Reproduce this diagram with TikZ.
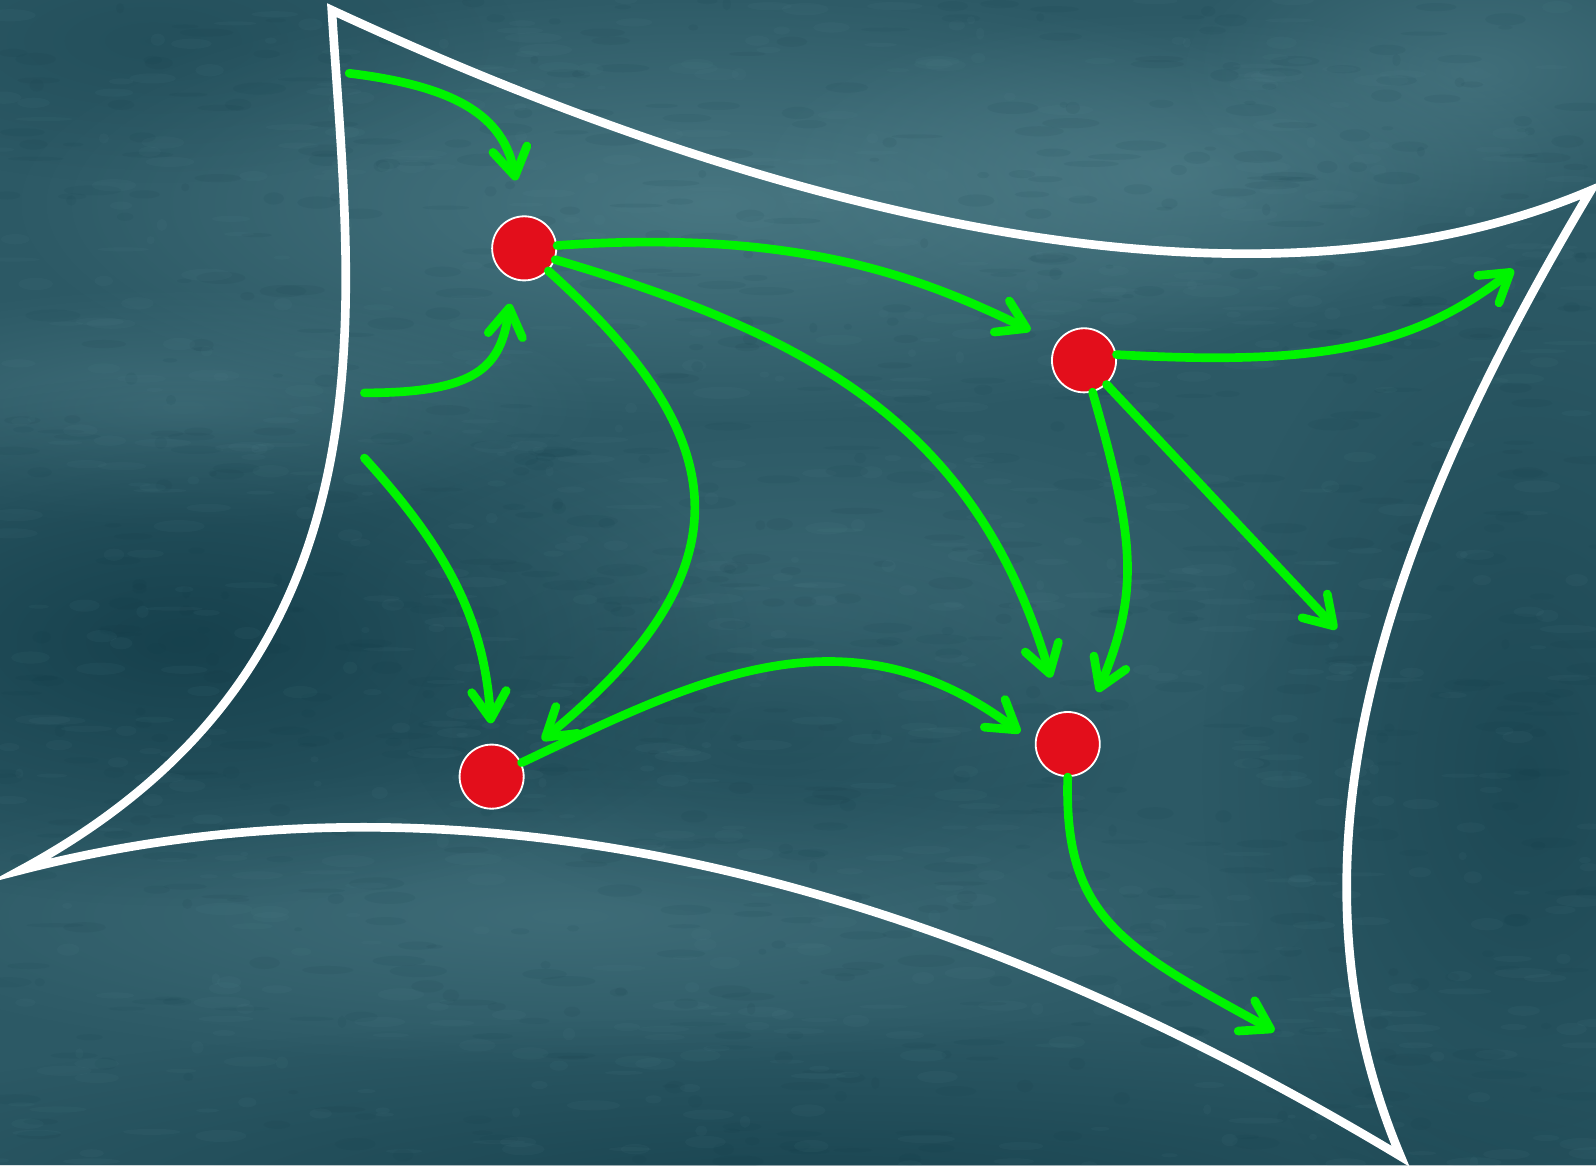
\documentclass[tikz,border=0pt]{standalone}
\usetikzlibrary{arrows.meta,fadings}
\definecolor{bgbase}{HTML}{2C5965}
\definecolor{bglight}{HTML}{5F8F99}
\definecolor{bgdark}{HTML}{0B3440}
\definecolor{dotred}{HTML}{E30E1B}
\definecolor{flowgreen}{HTML}{00F400}
\tikzfading[name=softblob, inner color=transparent!0, outer color=transparent!100]
\tikzset{
  dot/.style={circle, fill=dotred, draw=white, line width=1.8pt, minimum size=63pt, inner sep=0pt},
  flow/.style={draw=flowgreen, line width=8.5pt, line cap=round,
    -{Straight Barb[length=27pt,width=34pt,round]}},
  rim/.style={draw=white, line width=8.5pt, line join=miter},
  light/.style={fill=bglight, path fading=softblob},
  dark/.style={fill=bgdark, path fading=softblob}
}
\begin{document}
\begin{tikzpicture}[x=1pt,y=-1pt]
% canvas and textured backdrop
\useasboundingbox (0,0) rectangle (1568,1145);
\fill[bgbase] (0,0) rectangle (1568,1145);
\fill[light, opacity=0.55] (700,200) ellipse [x radius=700pt, y radius=220pt];
\fill[light, opacity=0.45] (1150,170) ellipse [x radius=420pt, y radius=160pt];
\fill[light, opacity=0.40] (1450,70) ellipse [x radius=300pt, y radius=150pt];
\fill[light, opacity=0.35] (180,400) ellipse [x radius=420pt, y radius=120pt];
\fill[light, opacity=0.35] (560,900) ellipse [x radius=760pt, y radius=150pt];
\fill[light, opacity=0.25] (800,600) ellipse [x radius=500pt, y radius=200pt];
\fill[dark, opacity=0.65] (180,630) ellipse [x radius=560pt, y radius=260pt];
\fill[dark, opacity=0.45] (1500,760) ellipse [x radius=320pt, y radius=500pt];
\fill[dark, opacity=0.55] (800,1170) ellipse [x radius=1100pt, y radius=170pt];
\fill[dark, opacity=0.25] (150,40) ellipse [x radius=360pt, y radius=140pt];
\fill[dark, opacity=0.30] (760,720) ellipse [x radius=360pt, y radius=180pt];
% fine mottled grain
\pgfmathsetseed{1234}
\foreach \i in {1,...,1600} {
  \pgfmathsetmacro{\px}{random(0,1568)}
  \pgfmathsetmacro{\py}{random(0,1145)}
  \pgfmathsetmacro{\rx}{random(4,28)}
  \pgfmathsetmacro{\ry}{random(2,6)}
  \ifodd\i
    \fill[bglight, opacity=0.07] (\px,\py) ellipse [x radius=\rx pt, y radius=\ry pt];
  \else
    \fill[bgdark, opacity=0.07] (\px,\py) ellipse [x radius=\rx pt, y radius=\ry pt];
  \fi
}

% outline of the region
\coordinate (nw) at (326,10);
\coordinate (ne) at (1563,187);
\coordinate (se) at (1376,1136);
\coordinate (sw) at (20,855);
\draw[rim] (nw) .. controls (800,230) and (1250,320) .. (ne)
  .. controls (1340,560) and (1260,860) .. (se)
  .. controls (800,790) and (350,770) .. (sw)
  .. controls (400,650) and (344,300) .. cycle;

% states
\node[dot] (A) at (515,244) {};
\node[dot] (B) at (1065,354) {};
\node[dot] (C) at (483,763) {};
\node[dot] (D) at (1049,731) {};

% loose ends of incoming and outgoing flows
\coordinate (s1) at (343,72);
\coordinate (s2) at (358,386);
\coordinate (s3) at (358,450);
\coordinate (o1) at (1487,265);
\coordinate (o2) at (1313,618);
\coordinate (o3) at (1252,1013);

% incoming flows
\draw[flow, shorten >=35pt] (s1) .. controls (450,85) and (495,115) .. (A.93);
\draw[flow, shorten >=24pt] (s2) .. controls (470,386) and (492,360) .. (A.-109);
\draw[flow, shorten >=20pt] (s3) .. controls (440,540) and (476,610) .. (C.89);

% transitions between states
\draw[flow, shorten >=28pt] (A.5) .. controls (780,225) and (900,270) .. (B.148);
\draw[flow, shorten >=35pt] (A.-20) .. controls (800,330) and (960,420) .. (D.102);
\draw[flow, shorten >=29pt] (A.-43) .. controls (710,420) and (750,550) .. (C.33);
\draw[flow, shorten >=18pt] (C.25) .. controls (680,670) and (830,590) .. (D.179);
\draw[flow, shorten >=27pt] (B.-75) .. controls (1115,530) and (1120,580) .. (D.54);

% outgoing flows
\draw[flow] (B.10) .. controls (1300,360) and (1390,340) .. (o1);
\draw[flow] (B.-47) -- (o2);
\draw[flow] (D.-90) .. controls (1045,900) and (1100,930) .. (o3);
\end{tikzpicture}
\end{document}
